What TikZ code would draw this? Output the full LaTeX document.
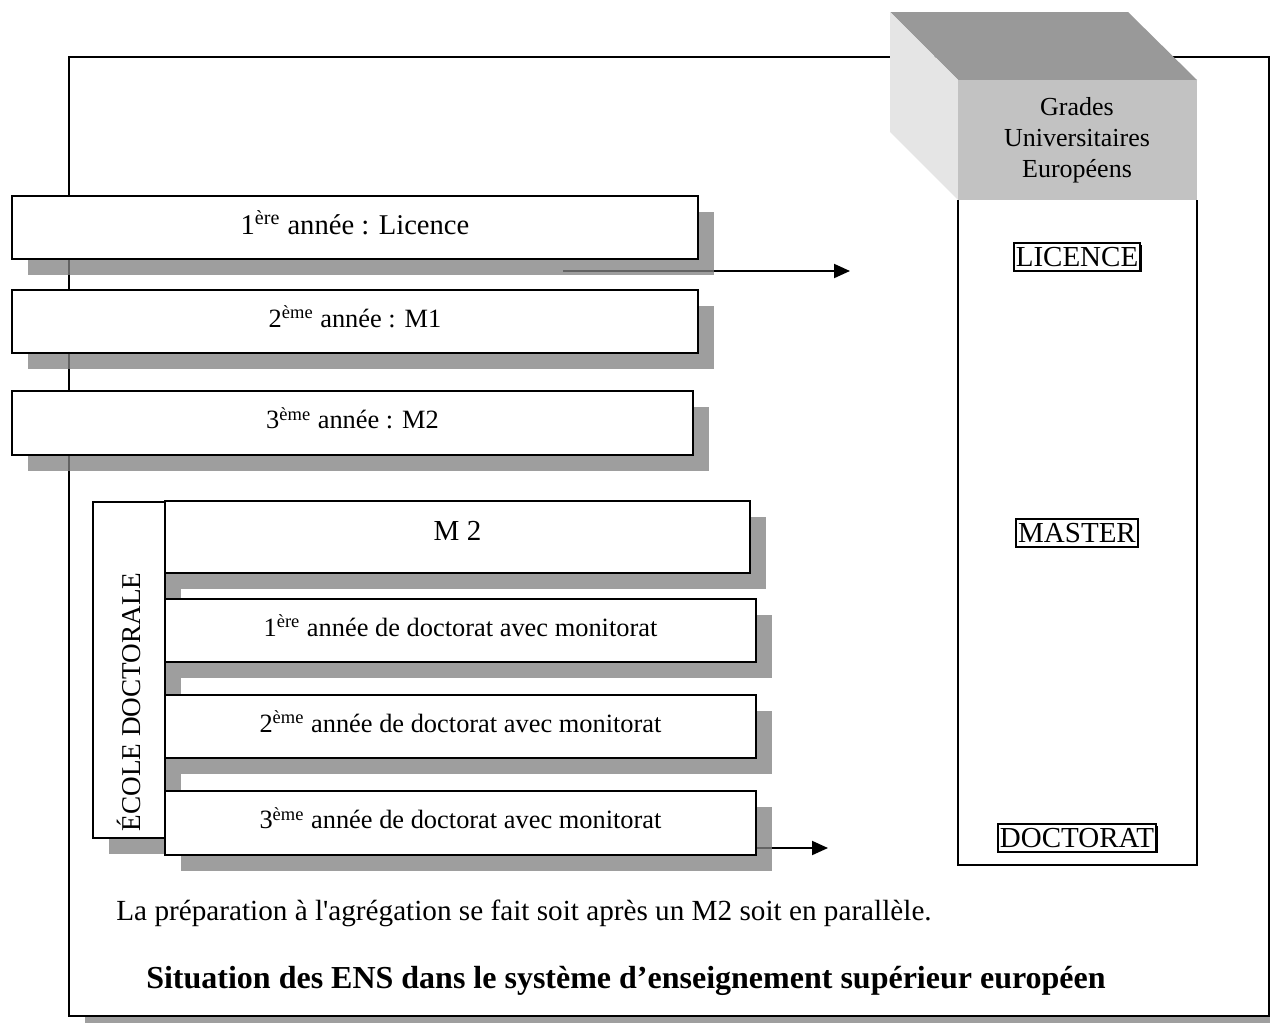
\documentclass[tikz,border=0pt]{standalone}
\usepackage{fontspec}
\setmainfont{Liberation Serif}
\usetikzlibrary{shadows,arrows.meta}
\definecolor{ombre}{gray}{0.51}
\definecolor{dessus}{gray}{0.6}
\definecolor{face}{gray}{0.76}
\definecolor{cote}{gray}{0.9}
\tikzset{
  annee/.style={draw, line width=1pt, fill=white, inner sep=0pt, minimum height=31.5pt,
    text depth=5pt, font=\fontsize{13.2}{15.5}\selectfont,
    drop shadow={shadow xshift=8pt, shadow yshift=-8pt, fill=ombre, opacity=0.77}},
  grade/.style={draw, line width=0.8pt, fill=white, inner xsep=1pt, inner ysep=2pt,
    font=\fontsize{14.5}{17}\selectfont,
    drop shadow={shadow xshift=0.8pt, shadow yshift=-0.8pt, fill=black, opacity=1}},
  fleche/.style={line width=1pt, -{Triangle[length=8pt,width=7pt]}},
}
\begin{document}
\begin{tikzpicture}[x=0.5pt,y=-0.5pt]
    \useasboundingbox (0,0) rectangle (1270,1023);
    % Cadre
    \fill[ombre, opacity=0.77] (85,73) rectangle (1285,1039);
    \draw[line width=1pt, fill=white] (69,57) rectangle (1269,1016);

    % Boîte des grades
    \fill[dessus] (890,12) -- (1128,12) -- (1197,80) -- (958,80) -- cycle;
    \fill[cote] (890,12) -- (958,80) -- (958,200) -- (890,132) -- cycle;
    \fill[face] (958,80) rectangle (1197,200);
    \node[align=center, font=\fontsize{13}{15.5}\selectfont] (grades) at (1077,140) {Grades\\Universitaires\\Européens};
    \draw[line width=0.8pt] (958,200) -- (958,865) -- (1197,865) -- (1197,200);

    \node[grade] (licence) at (1077,257) {LICENCE};
    \node[grade] (master) at (1077,533) {MASTER};
    \node[grade] (doctorat) at (1077,838) {DOCTORAT};

    % Flèches
    \coordinate (depart1) at (563,271);
    \coordinate (arrivee1) at (850,271);
    \coordinate (depart2) at (757,848);
    \coordinate (arrivee2) at (828,848);
    \draw[fleche] (depart1) -- (arrivee1);
    \draw[fleche] (depart2) -- (arrivee2);

    % Années ENS
    \node[annee, minimum width=343pt, font=\fontsize{14.3}{17}\selectfont] (an1) at (355,227.5) {1\textsuperscript{ère} année : Licence};
    \node[annee, minimum width=343pt] (an2) at (355,321.5) {2\textsuperscript{ème} année : M1};
    \node[annee, minimum width=340.5pt, minimum height=32pt] (an3) at (352.5,423) {3\textsuperscript{ème} année : M2};

    % École doctorale
    \node[annee, minimum width=36pt, minimum height=168pt] (ecole) at (129,670) {};
    \node[rotate=90, font=\fontsize{13.6}{16}\selectfont] (ecoletexte) at (129,702) {ÉCOLE DOCTORALE};
    \node[annee, minimum width=292.5pt, minimum height=36pt, text depth=6pt, font=\fontsize{14.5}{17}\selectfont] (m2) at (457.5,537) {M 2};
    \node[annee, minimum width=295.5pt] (doc1) at (460.5,630.5) {1\textsuperscript{ère} année de doctorat avec monitorat};
    \node[annee, minimum width=295.5pt] (doc2) at (460.5,726.5) {2\textsuperscript{ème} année de doctorat avec monitorat};
    \node[annee, minimum width=295.5pt, minimum height=32pt] (doc3) at (460.5,823) {3\textsuperscript{ème} année de doctorat avec monitorat};

    % Textes du bas
    \node[anchor=west, inner sep=0pt, font=\fontsize{14.6}{17}\selectfont] (agreg) at (116,913) {La préparation à l\textquotesingle agrégation se fait soit après un M2 soit en parallèle.};
    \node[font=\bfseries\fontsize{16}{19}\selectfont] (titre) at (626,981) {Situation des ENS dans le système d’enseignement supérieur européen};
\end{tikzpicture}
\end{document}
